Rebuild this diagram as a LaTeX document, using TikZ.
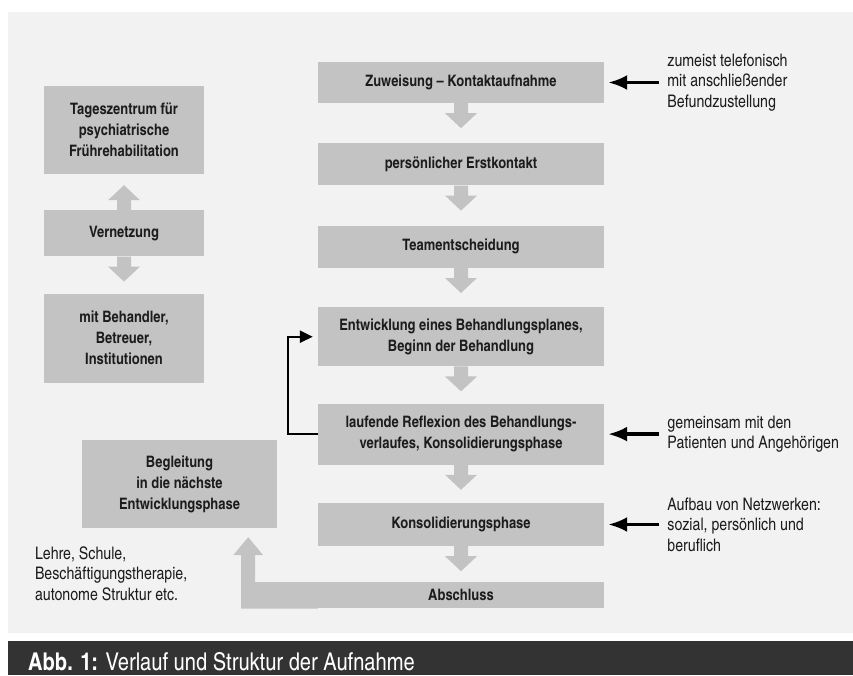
\documentclass[tikz,border=0pt]{standalone}
\usepackage{fontspec}
\setmainfont{TeX Gyre Heros Cn}
\usetikzlibrary{positioning,calc,arrows.meta}
\definecolor{panel}{HTML}{F2F2F2}
\definecolor{boxgray}{HTML}{C3C3C3}
\definecolor{ink}{HTML}{1C1C1C}
\definecolor{bar}{HTML}{333333}
\tikzset{
  stage/.style={fill=boxgray, text=ink, font=\fontsize{15.8}{21}\selectfont\bfseries,
    align=center, minimum width=286pt, minimum height=42pt, inner sep=3pt},
  sidebox/.style={stage, minimum width=160pt, minimum height=88pt},
  note/.style={text=ink, font=\fontsize{17.3}{20.5}\selectfont, align=left, inner sep=0pt},
  pointer/.style={draw=black, line width=3.3pt, -{Latex[length=19pt,width=15pt]}},
  backline/.style={draw=black, line width=2.4pt, -{Triangle[length=13pt,width=12pt]}},
  flowarrow/.pic={\fill[boxgray] (-7pt,0) -- (7pt,0) -- (7pt,-10pt) -- (16pt,-10pt)
    -- (0,-25pt) -- (-16pt,-10pt) -- (-7pt,-10pt) -- cycle;}
}
\begin{document}
\begin{tikzpicture}
\useasboundingbox (0,0) rectangle (853pt,-675pt);
\fill[panel] (8pt,-12pt) rectangle (853pt,-633pt);
\fill[bar] (8pt,-641pt) rectangle (853pt,-675pt);
% main column: admission steps
\node[stage, minimum height=41pt] (z1) at (461pt,-82.5pt) {Zuweisung – Kontaktaufnahme};
\node[stage, below=40pt of z1] (z2) {persönlicher Erstkontakt};
\node[stage, below=40pt of z2] (z3) {Teamentscheidung};
\node[stage, below=39pt of z3, minimum height=59pt] (z4) {Entwicklung eines Behandlungsplanes,\\Beginn der Behandlung};
\node[stage, below=37pt of z4, minimum height=61pt] (z5) {laufende Reflexion des Behandlungs-\\verlaufes, Konsolidierungsphase};
\node[stage, below=38pt of z5, minimum height=43pt] (z6) {Konsolidierungsphase};
\node[stage, below=36pt of z6, minimum height=26pt] (z7) {Abschluss};
\foreach \i in {1,...,6} \path (z\i.south) pic {flowarrow};
% left column: networking
\node[sidebox] (tz) at (124pt,-130pt) {Tageszentrum für\\psychiatrische\\Frührehabilitation};
\node[sidebox, below=36pt of tz, minimum height=46pt] (vn) {Vernetzung};
\node[sidebox, below=37pt of vn, minimum height=89pt] (bh) {mit Behandler,\\Betreuer,\\Institutionen};
\path (vn.north) pic[rotate=180] {flowarrow};
\path (vn.south) pic {flowarrow};
% next phase
\node[sidebox, minimum width=195pt] (bg) at (179.5pt,-484pt) {Begleitung\\in die nächste\\Entwicklungsphase};
\node[note, below=18pt of bg.south west, anchor=north west, xshift=-47pt] (lehre) {Lehre, Schule,\\Beschäftigungstherapie,\\autonome Struktur etc.};
\coordinate (tip) at ($(bg.south east)+(-29pt,-9pt)$);
\fill[boxgray] (z7.north west) -| ($(tip)+(7pt,-18pt)$) -- ++(8pt,0) -- (tip)
  -- ++(-15pt,-18pt) -- ++(8pt,0) |- (z7.south west) -- cycle;
% feedback loop
\draw[backline] (z5.west) -- ++(-30pt,0) |- ([xshift=-5pt]z4.west);
% side notes
\node[note, right=63pt of z1] (n1) {zumeist telefonisch\\mit anschließender\\Befundzustellung};
\node[note, right=63pt of z5] (n5) {gemeinsam mit den\\Patienten und Angehörigen};
\node[note, right=63pt of z6] (n6) {Aufbau von Netzwerken:\\sozial, persönlich und\\beruflich};
\foreach \n/\z in {n1/z1,n5/z5,n6/z6}
  \draw[pointer, shorten <=8pt, shorten >=4pt] (\n.west) -- (\z.east);
% caption
\node[anchor=base west, text=white, font=\fontsize{24.5}{27}\selectfont, inner sep=0pt] (cap) at (28pt,-670pt)
  {\textbf{Abb. 1:} Verlauf und Struktur der Aufnahme};
\end{tikzpicture}
\end{document}
